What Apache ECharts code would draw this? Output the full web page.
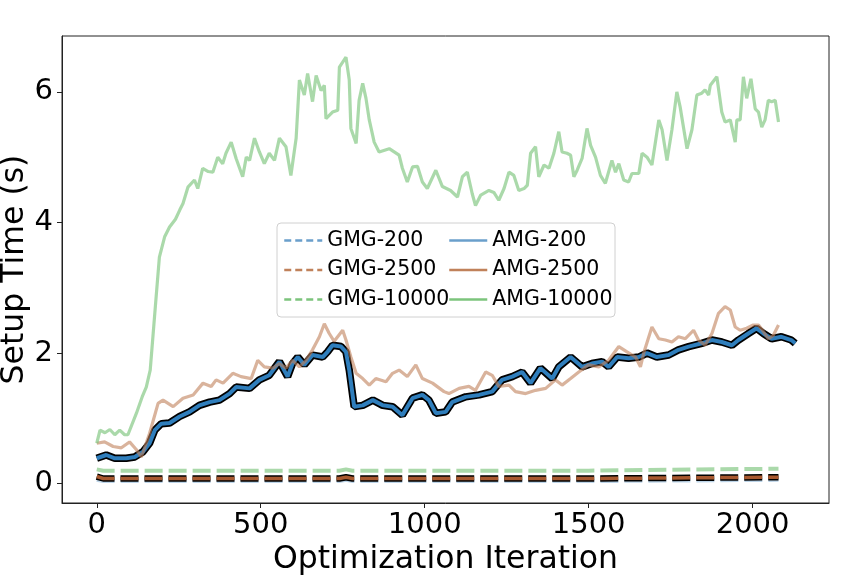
<!DOCTYPE html>
<html>
<head>
<meta charset="utf-8">
<title>Setup Time</title>
<script src="https://cdn.jsdelivr.net/npm/echarts@6/dist/echarts.min.js"></script>
<style>
  html, body { margin: 0; padding: 0; background: #fff; }
  #main { width: 864px; height: 576px; }
</style>
</head>
<body>
<div id="main"></div>
<script type="text/javascript">
	// ticks
	var xTicks = [0, 500, 1000, 1500, 2000];
	var yTicks = [0, 2, 4, 6];

	// AMG-10000
	var amg10000X = [0, 10, 25, 40, 55, 70, 85, 95, 121, 140, 151, 163, 172, 182, 191, 207, 222, 240, 253, 263, 278, 298, 308, 323, 340, 354, 369, 384, 394, 410, 425, 445, 456, 466, 481, 496, 511, 526, 542, 557, 577, 592, 608, 618, 633, 643, 658, 669, 684, 694, 699, 719, 735, 740, 760, 770, 775, 791, 800, 811, 821, 831, 846, 861, 892, 922, 932, 947, 963, 978, 993, 1008, 1034, 1054, 1079, 1100, 1115, 1130, 1145, 1155, 1171, 1196, 1211, 1226, 1242, 1257, 1272, 1287, 1303, 1313, 1323, 1338, 1348, 1364, 1379, 1394, 1409, 1419, 1434, 1445, 1455, 1465, 1480, 1495, 1506, 1521, 1536, 1551, 1571, 1582, 1592, 1607, 1622, 1632, 1653, 1663, 1678, 1693, 1714, 1724, 1739, 1754, 1769, 1779, 1800, 1815, 1830, 1845, 1855, 1866, 1871, 1891, 1906, 1916, 1932, 1947, 1952, 1962, 1972, 1982, 1995, 2008, 2018, 2028, 2038, 2048, 2058, 2069, 2079];
	var amg10000Y = [0.62, 0.82, 0.78, 0.83, 0.75, 0.82, 0.75, 0.75, 1.08, 1.35, 1.48, 1.74, 2.3, 2.92, 3.47, 3.78, 3.93, 4.05, 4.19, 4.29, 4.54, 4.65, 4.52, 4.83, 4.78, 4.77, 5.0, 4.9, 5.06, 5.23, 4.98, 4.70, 5.0, 4.95, 5.29, 5.08, 4.9, 5.06, 4.95, 5.29, 5.16, 4.72, 5.29, 6.18, 5.95, 6.28, 5.85, 6.25, 6.02, 6.1, 5.59, 5.69, 5.72, 6.38, 6.53, 6.18, 5.44, 5.21, 5.87, 6.13, 5.9, 5.57, 5.23, 5.08, 5.13, 5.03, 4.83, 4.62, 4.85, 4.86, 4.62, 4.52, 4.80, 4.55, 4.49, 4.39, 4.70, 4.77, 4.44, 4.26, 4.42, 4.49, 4.46, 4.34, 4.52, 4.77, 4.72, 4.49, 4.52, 4.57, 5.06, 5.16, 4.70, 4.88, 4.83, 5.06, 5.39, 5.08, 5.06, 5.03, 4.70, 4.80, 4.98, 5.44, 5.18, 5.00, 4.72, 4.60, 4.95, 4.77, 4.90, 4.65, 4.62, 4.75, 4.75, 5.06, 5.0, 4.88, 5.57, 5.42, 4.95, 5.42, 6.0, 5.77, 5.13, 5.42, 5.95, 5.98, 6.03, 5.95, 6.10, 6.23, 5.69, 5.54, 5.57, 5.23, 5.57, 5.57, 6.23, 5.90, 6.20, 5.74, 5.69, 5.46, 5.57, 5.87, 5.85, 5.87, 5.54];

	// AMG-2500
	var amg2500X = [0, 24, 50, 75, 100, 121, 136, 161, 187, 202, 233, 263, 294, 324, 349, 364, 385, 415, 440, 471, 491, 511, 537, 557, 577, 597, 618, 638, 658, 679, 694, 709, 724, 750, 760, 775, 791, 811, 831, 851, 882, 902, 922, 947, 973, 993, 1024, 1059, 1074, 1105, 1135, 1155, 1186, 1206, 1226, 1257, 1277, 1308, 1338, 1369, 1399, 1419, 1445, 1470, 1500, 1531, 1561, 1592, 1617, 1643, 1658, 1668, 1693, 1714, 1734, 1754, 1774, 1795, 1820, 1835, 1855, 1876, 1896, 1916, 1932, 1947, 1962, 1982, 2002, 2018, 2033, 2048, 2063, 2079];
	var amg2500Y = [0.62, 0.64, 0.57, 0.55, 0.64, 0.52, 0.41, 0.77, 1.23, 1.28, 1.18, 1.31, 1.36, 1.54, 1.49, 1.59, 1.54, 1.69, 1.64, 1.61, 1.89, 1.79, 1.77, 1.84, 1.77, 1.89, 1.79, 1.89, 2.05, 2.25, 2.45, 2.30, 2.18, 2.35, 2.20, 1.94, 1.69, 1.61, 1.51, 1.61, 1.56, 1.69, 1.74, 1.64, 1.82, 1.61, 1.54, 1.41, 1.38, 1.46, 1.49, 1.43, 1.71, 1.66, 1.49, 1.51, 1.41, 1.38, 1.43, 1.46, 1.59, 1.51, 1.61, 1.71, 1.82, 1.79, 1.89, 2.10, 2.02, 1.94, 1.79, 2.0, 2.40, 2.22, 2.20, 2.17, 2.25, 2.22, 2.35, 2.20, 2.12, 2.30, 2.61, 2.71, 2.66, 2.40, 2.35, 2.38, 2.43, 2.43, 2.33, 2.22, 2.27, 2.43];

	// AMG-200
	var amg200X = [0, 29, 55, 90, 116, 141, 161, 177, 197, 222, 253, 283, 313, 344, 374, 405, 425, 466, 496, 526, 557, 582, 597, 613, 633, 658, 689, 704, 719, 745, 760, 770, 785, 811, 842, 872, 902, 932, 963, 993, 1013, 1034, 1064, 1084, 1125, 1166, 1206, 1236, 1267, 1297, 1323, 1353, 1389, 1409, 1445, 1480, 1510, 1541, 1561, 1587, 1622, 1653, 1678, 1708, 1744, 1774, 1805, 1845, 1876, 1906, 1937, 1957, 1987, 2012, 2033, 2058, 2088, 2118, 2130];
	var amg200Y = [0.39, 0.44, 0.39, 0.39, 0.41, 0.49, 0.62, 0.82, 0.92, 0.93, 1.03, 1.10, 1.20, 1.25, 1.28, 1.38, 1.48, 1.46, 1.59, 1.66, 1.87, 1.64, 1.84, 1.94, 1.82, 1.97, 1.94, 2.02, 2.12, 2.10, 2.02, 1.74, 1.18, 1.20, 1.28, 1.20, 1.18, 1.05, 1.31, 1.36, 1.28, 1.08, 1.10, 1.25, 1.33, 1.36, 1.41, 1.59, 1.64, 1.71, 1.54, 1.77, 1.61, 1.79, 1.94, 1.79, 1.84, 1.87, 1.79, 1.94, 1.92, 1.94, 2.0, 1.94, 1.97, 2.05, 2.10, 2.15, 2.20, 2.17, 2.12, 2.20, 2.30, 2.38, 2.30, 2.22, 2.25, 2.20, 2.15];

	// GMG
	var gmg10000X = [0, 20, 740, 760, 780, 1500, 2079];
	var gmg10000Y = [0.22, 0.20, 0.20, 0.22, 0.20, 0.20, 0.23];
	var gmg2500X = [0, 20, 740, 760, 780, 1500, 2079];
	var gmg2500Y = [0.11, 0.08, 0.08, 0.10, 0.08, 0.08, 0.10];
	var gmg200X = [0, 20, 740, 760, 780, 1500, 2079];
	var gmg200Y = [0.06, 0.04, 0.04, 0.06, 0.04, 0.04, 0.06];

	function zip(xs, ys) {
		return xs.map(function(x, i) { return [x, ys[i]]; });
	}

	var font = 'DejaVu Sans';
	var dash = [18, 6];

	var series = [
		{ name: 'GMG-200', data: zip(gmg200X, gmg200Y), color: '#6a9fcb',
		  lineStyle: { width: 4, type: dash, opacity: 0.45 } },
		{ name: 'gmg2500-edge', data: zip(gmg2500X, gmg2500Y), color: '#000',
		  lineStyle: { width: 6.5, type: dash } },
		{ name: 'GMG-2500', data: zip(gmg2500X, gmg2500Y), color: '#a8592f',
		  lineStyle: { width: 3.5, type: dash } },
		{ name: 'GMG-10000', data: zip(gmg10000X, gmg10000Y), color: '#7cc47c',
		  lineStyle: { width: 4, type: dash, opacity: 0.65 } },
		{ name: 'amg200-edge', data: zip(amg200X, amg200Y), color: '#000',
		  lineStyle: { width: 7.5 } },
		{ name: 'AMG-200', data: zip(amg200X, amg200Y), color: '#2f7ebc',
		  lineStyle: { width: 4 } },
		{ name: 'AMG-2500', data: zip(amg2500X, amg2500Y), color: '#c0815a',
		  lineStyle: { width: 3.2, opacity: 0.6 } },
		{ name: 'AMG-10000', data: zip(amg10000X, amg10000Y), color: '#7cc47c',
		  lineStyle: { width: 3.2, opacity: 0.65 } }
	];
	series.forEach(function(s) {
		s.type = 'line';
		s.symbol = 'none';
		s.showSymbol = false;
		s.animation = false;
	});

	var legendBase = {
		orient: 'vertical',
		top: 230,
		padding: 0,
		itemWidth: 38,
		itemHeight: 14,
		itemGap: 8.5,
		textStyle: { fontFamily: font, fontSize: 20.5, color: '#000', lineHeight: 20 }
	};
	function legendItem(name, color, type) {
		return {
			name: name,
			itemStyle: { opacity: 0, borderWidth: 0 },
			lineStyle: { color: color, width: 2.5, type: type, opacity: 1 }
		};
	}

	function plainLabel(v) { return String(v); }

	var option = {
		backgroundColor: '#fff',
		animation: false,
		grid: { left: 62, right: 35, top: 36, bottom: 73, outerBoundsMode: 'none',
			show: true, borderColor: '#222', borderWidth: 1 },
		xAxis: {
			type: 'value', min: -106, max: 2233,
			name: 'Optimization Iteration', nameLocation: 'middle', nameGap: 41,
			nameMoveOverlap: false,
			nameTextStyle: { fontFamily: font, fontSize: 31.5, color: '#000' },
			axisLine: { show: true, onZero: false, lineStyle: { color: '#222' } },
			axisTick: { show: true, length: 5, customValues: xTicks, lineStyle: { color: '#222' } },
			axisLabel: { customValues: xTicks, formatter: plainLabel, margin: 8,
				fontFamily: font, fontSize: 29, color: '#000' },
			splitLine: { show: false }
		},
		yAxis: {
			type: 'value', min: -0.295, max: 6.855,
			name: 'Setup Time (s)', nameLocation: 'middle', nameGap: 31, nameRotate: 90,
			nameMoveOverlap: false,
			nameTextStyle: { fontFamily: font, fontSize: 31.5, color: '#000' },
			axisLine: { show: true, onZero: false, lineStyle: { color: '#222' } },
			axisTick: { show: true, length: 5, customValues: yTicks, lineStyle: { color: '#222' } },
			axisLabel: { customValues: yTicks, formatter: plainLabel, margin: 9,
				fontFamily: font, fontSize: 29, color: '#000' },
			splitLine: { show: false }
		},
		graphic: [{
			type: 'rect', z: 50,
			shape: { x: 277, y: 223, width: 338, height: 94, r: 4 },
			style: { fill: 'rgba(255,255,255,0.8)', stroke: '#d0d0d0', lineWidth: 1 }
		}],
		legend: [
			Object.assign({}, legendBase, { left: 283, z: 60, data: [
				legendItem('GMG-200', '#6a9fcb', [7, 4]),
				legendItem('GMG-2500', '#c0815a', [7, 4]),
				legendItem('GMG-10000', '#7cc47c', [7, 4])
			] }),
			Object.assign({}, legendBase, { left: 448, z: 60, data: [
				legendItem('AMG-200', '#6a9fcb', 'solid'),
				legendItem('AMG-2500', '#c0815a', 'solid'),
				legendItem('AMG-10000', '#7cc47c', 'solid')
			] })
		],
		series: series
	};

	var myChart = echarts.init(document.getElementById('main'));
	myChart.setOption(option);
</script>
</body>
</html>
